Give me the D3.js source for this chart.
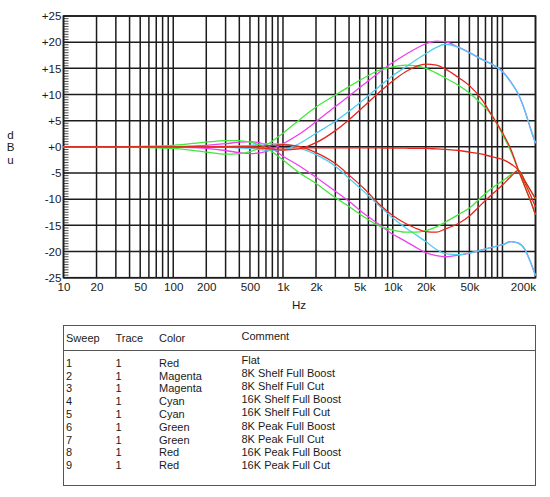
<!DOCTYPE html>
<html lang="en">
<head>
  <meta charset="UTF-8">
  <title>EQ sweeps</title>
  <style>
    body { margin: 0; background: #fff; }
    svg text {
      font-family: "Liberation Sans", Arial, Helvetica, sans-serif;
      font-size: 11px;
      fill: #1a1a1a;
    }
    .grid line { stroke: #1c1c1c; stroke-width: 1.5; }
    .minor line { stroke: #1c1c1c; stroke-width: 0.8; }
    .trace { fill: none; stroke-width: 1.3; }
    .table-box { fill: none; stroke: #555; stroke-width: 1; }
  </style>
  <script src="https://d3js.org/d3.v7.min.js"></script>
</head>
<body>

<svg id="chart" width="550" height="497"></svg>

<script>
  // frequency points the sweeps were read at (Hz)
  var freqs = [10, 20, 50, 100, 200, 300, 400, 500, 700, 1000, 1400, 2000, 3000, 4000, 5500, 7500,
               10000, 13000, 16000, 20000, 25000, 30000, 40000, 50000, 65000, 80000, 100000,
               120000, 140000, 160000, 180000, 200000];

  // dBu values per sweep
  var flat        = [0, 0, 0, 0, 0, -0.1, -0.1, -0.1, -0.15, -0.2, -0.2, -0.2, -0.2, -0.2, -0.2, -0.2,
                     -0.25, -0.25, -0.3, -0.3, -0.4, -0.5, -0.7, -1.0, -1.4, -1.9, -2.4,
                     -3.3, -4.5, -6.9, -9.2, -11.5];
  var shelf8Boost = [0, 0, 0, -0.05, -0.3, -0.7, -1.1, -1.3, -0.9, 0.6, 2.4, 4.8, 7.7, 9.7, 12.0, 14.2,
                     16.1, 17.6, 18.7, 19.7, 20.2, 20.1, 19.0, 18.0, 16.7, 15.8, 14.4,
                     12.3, 10.0, 6.9, 3.5, 0.7];
  var shelf8Cut   = [0, 0, 0, 0.05, 0.3, 0.6, 0.9, 1.0, 0.4, -1.8, -3.6, -5.8, -8.5, -10.4, -12.8, -14.8,
                     -16.7, -18.0, -19.1, -20.2, -20.8, -21.0, -20.7, -20.3, -19.7, -19.2, -18.7,
                     -18.1, -18.4, -19.6, -22.0, -24.6];
  var shelf16Boost = [0, 0, 0, 0, 0, -0.1, -0.2, -0.3, -0.6, -0.6, 0.6, 2.6, 4.9, 6.8, 9.1, 11.5,
                     13.6, 15.2, 16.5, 17.8, 19.0, 19.6, 19.0, 18.0, 16.7, 15.8, 14.4,
                     12.3, 10.0, 6.9, 3.5, 0.7];
  var shelf16Cut  = [0, 0, 0, 0, 0, 0.1, 0.2, 0.3, 0.6, 0.5, -0.2, -1.5, -3.7, -6.0, -8.6, -11.2,
                     -13.6, -15.4, -16.7, -18.1, -19.6, -20.4, -20.6, -20.3, -19.7, -19.2, -18.7,
                     -18.1, -18.4, -19.6, -22.0, -24.6];
  var peak8Boost  = [0, 0, -0.1, -0.3, -1.0, -1.4, -1.3, -0.9, 0.3, 2.6, 5.1, 7.6, 9.9, 11.5, 13.2, 14.6,
                     15.3, 15.6, 15.5, 15.0, 14.1, 13.2, 11.7, 10.3, 8.1, 6.0, 2.4,
                     -1.0, -4.5, -7.6, -10.3, -13.0];
  var peak8Cut    = [0, 0, 0.1, 0.3, 0.9, 1.2, 1.2, 0.9, -0.2, -2.5, -4.9, -7.0, -9.7, -11.4, -13.4, -15.1,
                     -15.9, -16.3, -16.3, -16.0, -15.3, -14.4, -12.9, -11.7, -9.5, -7.9, -6.5,
                     -5.3, -4.5, -6.5, -8.3, -9.9];
  var peak16Boost = [0, 0, 0, 0, 0, 0, 0, -0.1, -0.3, -0.6, -0.4, 0.8, 3.1, 5.2, 7.8, 10.4,
                     12.6, 14.3, 15.3, 15.8, 15.6, 14.9, 13.2, 11.7, 9.0, 6.0, 2.7,
                     -0.6, -4.5, -7.6, -10.3, -13.0];
  var peak16Cut   = [0, 0, 0, 0, 0, 0, 0, 0.1, 0.2, 0.4, 0.1, -1.1, -3.2, -5.4, -8.0, -10.9,
                     -13.1, -14.6, -15.5, -16.2, -16.3, -15.7, -14.6, -13.2, -10.9, -9.1, -7.3,
                     -5.6, -4.5, -6.5, -8.3, -9.9];

  // legend table
  var sweeps = [1, 2, 3, 4, 5, 6, 7, 8, 9];
  var traces = [1, 1, 1, 1, 1, 1, 1, 1, 1];
  var colorNames = ["Red", "Magenta", "Magenta", "Cyan", "Cyan", "Green", "Green", "Red", "Red"];
  var comments = ["Flat", "8K Shelf Full Boost", "8K Shelf Full Cut", "16K Shelf Full Boost",
                  "16K Shelf Full Cut", "8K Peak Full Boost", "8K Peak Full Cut",
                  "16K Peak Full Boost", "16K Peak Full Cut"];
  var sweepValues = [flat, shelf8Boost, shelf8Cut, shelf16Boost, shelf16Cut,
                     peak8Boost, peak8Cut, peak16Boost, peak16Cut];

  // axis ticks
  var xTicks = [10, 20, 50, 100, 200, 500, 1000, 2000, 5000, 10000, 20000, 50000, 200000];
  var xTickLabels = ["10", "20", "50", "100", "200", "500", "1k", "2k", "5k", "10k", "20k", "50k", "200k"];
  var yTicks = [25, 20, 15, 10, 5, 0, -5, -10, -15, -20, -25];

  var strokeFor = { Red: "#e8241c", Magenta: "#f03ef0", Cyan: "#4ccdf2", Green: "#40e83a" };

  var plotLeft = 63.5, plotRight = 535.5, plotTop = 16, plotBottom = 277.7;

  var svg = d3.select("#chart");
  svg.append("rect").attr("width", 550).attr("height", 497).attr("fill", "#fff");

  var x = d3.scaleLog().domain([10, 200000]).range([plotLeft, plotRight]);
  var y = d3.scaleLinear().domain([-25, 25]).range([plotBottom, plotTop]);

  // grid
  var grid = svg.append("g").attr("class", "grid");
  grid.selectAll("line.v")
    .data(x.ticks())
    .enter().append("line")
    .attr("class", "v")
    .attr("x1", d => x(d)).attr("x2", d => x(d))
    .attr("y1", plotTop).attr("y2", plotBottom);
  grid.selectAll("line.h")
    .data(yTicks)
    .enter().append("line")
    .attr("class", "h")
    .attr("x1", plotLeft).attr("x2", plotRight)
    .attr("y1", d => y(d)).attr("y2", d => y(d));

  // little ticks every half dB on the left edge
  svg.append("g").attr("class", "minor")
    .selectAll("line")
    .data(d3.range(-50, 51).map(d => d / 2))
    .enter().append("line")
    .attr("x1", plotLeft).attr("x2", plotLeft + 5)
    .attr("y1", d => y(d)).attr("y2", d => y(d));

  // frame
  svg.append("rect")
    .attr("x", plotLeft).attr("y", plotTop)
    .attr("width", plotRight - plotLeft).attr("height", plotBottom - plotTop)
    .attr("fill", "none").attr("stroke", "#1c1c1c").attr("stroke-width", 1.6);

  // traces
  var line = d3.line()
    .x((d, i) => x(freqs[i]))
    .y(d => y(d))
    .curve(d3.curveMonotoneX);

  svg.append("g")
    .selectAll("path")
    .data(sweepValues)
    .enter().append("path")
    .attr("class", "trace")
    .attr("stroke", (d, i) => strokeFor[colorNames[i]])
    .attr("d", line);

  // axes (labels only)
  var yAxis = svg.append("g")
    .attr("transform", "translate(" + plotLeft + ",0)")
    .call(d3.axisLeft(y).tickValues(yTicks).tickSize(0).tickPadding(2)
      .tickFormat(d => d >= 0 ? "+" + d : String(d)));
  yAxis.select(".domain").remove();

  var xAxis = svg.append("g")
    .attr("transform", "translate(0," + plotBottom + ")")
    .call(d3.axisBottom(x).tickValues(xTicks).tickSize(0).tickPadding(5)
      .tickFormat((d, i) => xTickLabels[i]));
  xAxis.select(".domain").remove();
  xAxis.selectAll(".tick text")
    .filter(d => d === 200000)
    .attr("text-anchor", "end");

  svg.selectAll(".tick text")
    .style("font-size", "11.6px")
    .style("fill", "#1a1a1a");

  // axis titles
  svg.append("text").attr("x", 299).attr("y", 309).attr("text-anchor", "middle")
    .style("font-size", "11.6px").text("Hz");
  svg.selectAll("text.unit")
    .data(["d", "B", "u"])
    .enter().append("text")
    .attr("class", "unit")
    .attr("x", 10.5)
    .attr("y", (d, i) => 138.5 + i * 12.8)
    .attr("text-anchor", "middle")
    .style("font-size", "11.6px")
    .text(d => d);

  // legend table
  var table = svg.append("g");
  table.append("rect").attr("class", "table-box")
    .attr("x", plotLeft).attr("y", 325.5)
    .attr("width", plotRight - plotLeft).attr("height", 160);
  table.append("line").attr("class", "table-box")
    .attr("x1", plotLeft).attr("x2", plotRight)
    .attr("y1", 350.5).attr("y2", 350.5);

  var cols = [66, 115.5, 159, 241.5];
  var headers = ["Sweep", "Trace", "Color", "Comment"];
  table.selectAll("text.head")
    .data(headers)
    .enter().append("text")
    .attr("class", "head")
    .attr("x", (d, i) => cols[i])
    .attr("y", (d, i) => i === 3 ? 340 : 341.5)
    .text(d => d);

  var rows = table.selectAll("g.row")
    .data(sweeps)
    .enter().append("g")
    .attr("class", "row");
  rows.append("text").attr("x", cols[0]).attr("y", (d, i) => 366.7 + i * 12.8).text(d => d);
  rows.append("text").attr("x", cols[1]).attr("y", (d, i) => 366.7 + i * 12.8).text((d, i) => traces[i]);
  rows.append("text").attr("x", cols[2]).attr("y", (d, i) => 366.7 + i * 12.8).text((d, i) => colorNames[i]);
  rows.append("text").attr("x", cols[3]).attr("y", (d, i) => 364 + i * 13.1).text((d, i) => comments[i]);
</script>

</body>
</html>
